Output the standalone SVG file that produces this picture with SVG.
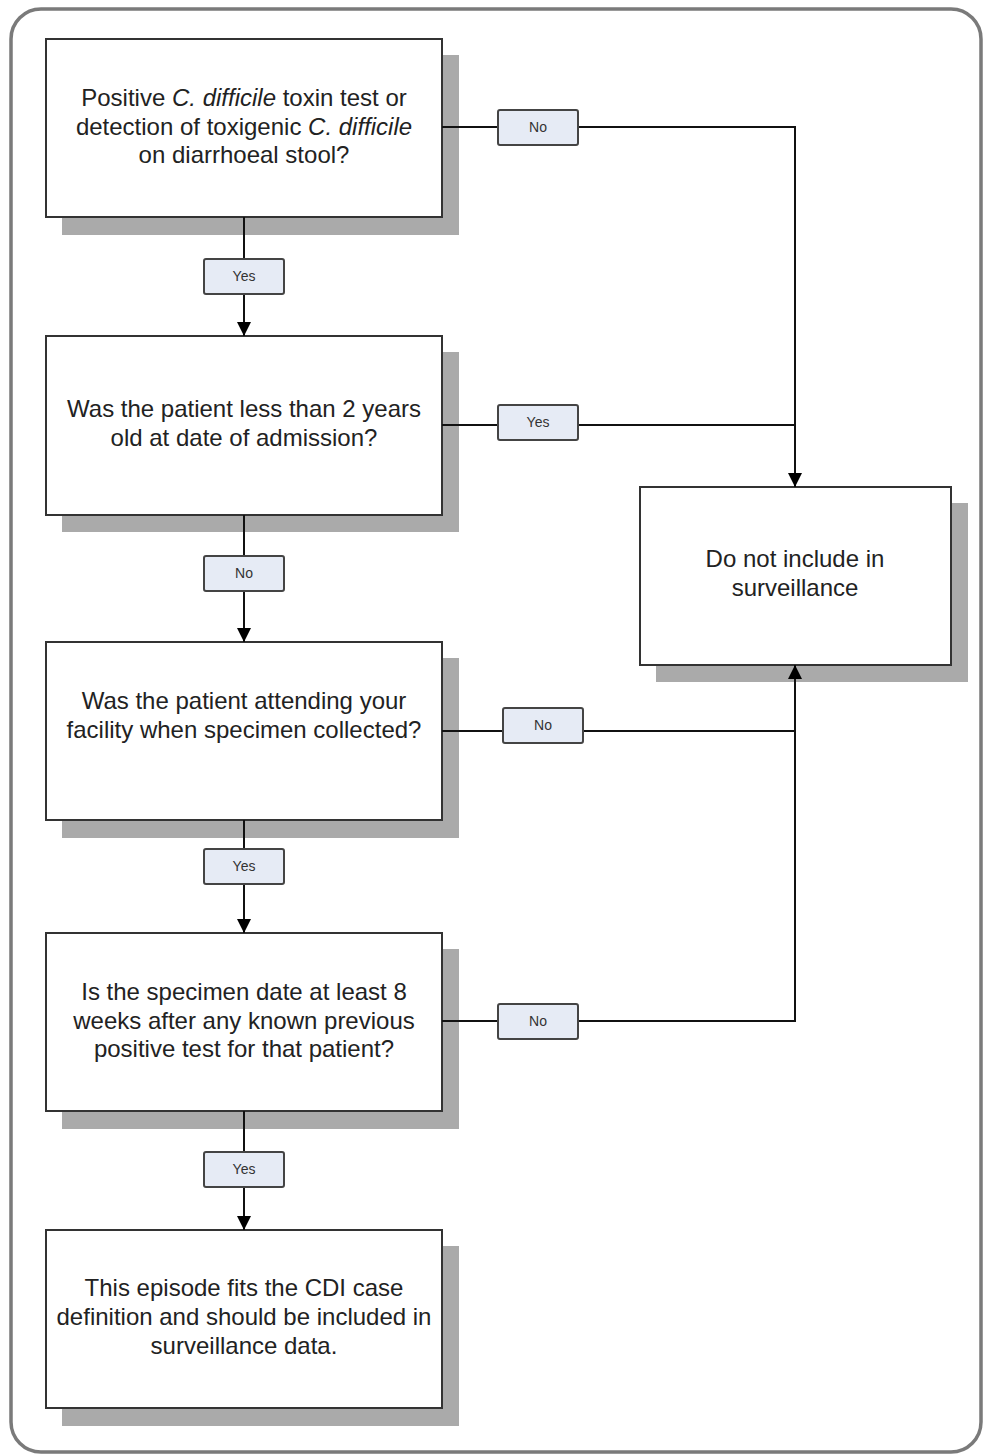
<svg xmlns="http://www.w3.org/2000/svg" width="983" height="1455" viewBox="0 0 983 1455">
<style>
.frame{fill:#fff;stroke:#7a7a7a;stroke-width:3.5}
.shadow{fill:#aaaaaa}
.box{fill:#fff;stroke:#333;stroke-width:2}
.t{font-family:"Liberation Sans",Arial,sans-serif;font-size:24px;fill:#222;text-anchor:middle}
.lbl{fill:#e6ebf5;stroke:#444;stroke-width:2}
.lt{font-family:"Liberation Sans",Arial,sans-serif;font-size:14px;fill:#333;text-anchor:middle}
.c{fill:none;stroke:#111;stroke-width:2}
</style>
<defs>
<marker id="ah" viewBox="0 0 14 14" refX="14" refY="7" markerWidth="14" markerHeight="14" markerUnits="userSpaceOnUse" orient="auto">
<path d="M0,0 L14,7 L0,14 Z" fill="#000"/>
</marker>
</defs>
<rect class="frame" x="11" y="9" width="970" height="1443" rx="30" ry="30"/>

<g id="n1">
<rect class="shadow" x="62" y="55" width="397" height="180"/>
<rect class="box" x="46" y="39" width="396" height="178"/>
<text class="t" x="244" y="106">Positive <tspan font-style="italic">C. difficile</tspan> toxin test or</text>
<text class="t" x="244" y="135">detection of toxigenic <tspan font-style="italic">C. difficile</tspan></text>
<text class="t" x="244" y="163">on diarrhoeal stool?</text>
</g>
<g id="n2">
<rect class="shadow" x="62" y="352" width="397" height="180"/>
<rect class="box" x="46" y="336" width="396" height="179"/>
<text class="t" x="244" y="417">Was the patient less than 2 years</text>
<text class="t" x="244" y="446">old at date of admission?</text>
</g>
<g id="n3">
<rect class="shadow" x="62" y="658" width="397" height="180"/>
<rect class="box" x="46" y="642" width="396" height="178"/>
<text class="t" x="244" y="709">Was the patient attending your</text>
<text class="t" x="244" y="738">facility when specimen collected?</text>
</g>
<g id="n4">
<rect class="shadow" x="62" y="949" width="397" height="180"/>
<rect class="box" x="46" y="933" width="396" height="178"/>
<text class="t" x="244" y="1000">Is the specimen date at least 8</text>
<text class="t" x="244" y="1029">weeks after any known previous</text>
<text class="t" x="244" y="1057">positive test for that patient?</text>
</g>
<g id="n5">
<rect class="shadow" x="62" y="1246" width="397" height="180"/>
<rect class="box" x="46" y="1230" width="396" height="178"/>
<text class="t" x="244" y="1296">This episode fits the CDI case</text>
<text class="t" x="244" y="1325">definition and should be included in</text>
<text class="t" x="244" y="1354">surveillance data.</text>
</g>
<g id="n6">
<rect class="shadow" x="656" y="503" width="312" height="179"/>
<rect class="box" x="640" y="487" width="311" height="178"/>
<text class="t" x="795" y="567">Do not include in</text>
<text class="t" x="795" y="596">surveillance</text>
</g>

<g id="connectors">
<line class="c" x1="244" y1="217" x2="244" y2="336" marker-end="url(#ah)"/>
<line class="c" x1="244" y1="515" x2="244" y2="642" marker-end="url(#ah)"/>
<line class="c" x1="244" y1="820" x2="244" y2="933" marker-end="url(#ah)"/>
<line class="c" x1="244" y1="1111" x2="244" y2="1230" marker-end="url(#ah)"/>
<polyline class="c" points="442,127 795,127 795,487" marker-end="url(#ah)"/>
<line class="c" x1="442" y1="425" x2="795" y2="425"/>
<line class="c" x1="442" y1="731" x2="795" y2="731"/>
<polyline class="c" points="442,1021 795,1021 795,665" marker-end="url(#ah)"/>
</g>

<g id="labels">
<g id="l1"><rect class="lbl" x="204" y="259" width="80" height="35" rx="2"/><text class="lt" x="244" y="281">Yes</text></g>
<g id="l2"><rect class="lbl" x="204" y="556" width="80" height="35" rx="2"/><text class="lt" x="244" y="578">No</text></g>
<g id="l3"><rect class="lbl" x="204" y="849" width="80" height="35" rx="2"/><text class="lt" x="244" y="871">Yes</text></g>
<g id="l4"><rect class="lbl" x="204" y="1152" width="80" height="35" rx="2"/><text class="lt" x="244" y="1174">Yes</text></g>
<g id="l5"><rect class="lbl" x="498" y="110" width="80" height="35" rx="2"/><text class="lt" x="538" y="132">No</text></g>
<g id="l6"><rect class="lbl" x="498" y="405" width="80" height="35" rx="2"/><text class="lt" x="538" y="427">Yes</text></g>
<g id="l7"><rect class="lbl" x="503" y="708" width="80" height="35" rx="2"/><text class="lt" x="543" y="730">No</text></g>
<g id="l8"><rect class="lbl" x="498" y="1004" width="80" height="35" rx="2"/><text class="lt" x="538" y="1026">No</text></g>
</g>
</svg>
